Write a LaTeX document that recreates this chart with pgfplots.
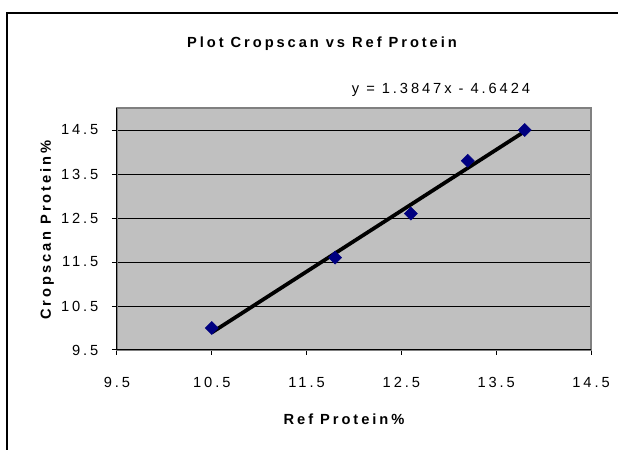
\documentclass[border=0pt]{standalone}
\usepackage{fontspec}
\setmainfont{Liberation Sans}[LetterSpace=20]
\usepackage{pgfplots}
\pgfplotsset{compat=1.18}
\definecolor{plotgrey}{HTML}{C0C0C0}
\definecolor{bordergrey}{HTML}{808080}
\definecolor{navymark}{HTML}{000080}
\begin{document}
\begin{tikzpicture}
\begin{axis}[
  at={(87.75pt,75pt)}, anchor=south west,
  scale only axis, width=355.5pt, height=181.5pt,
  xmin=9.5, xmax=14.5, ymin=9.5, ymax=15,
  xtick={9.5,10.5,11.5,12.5,13.5,14.5},
  ytick={9.5,10.5,11.5,12.5,13.5,14.5},
  xticklabels={9.5,10.5,11.5,12.5,13.5,14.5},
  yticklabels={9.5,10.5,11.5,12.5,13.5,14.5},
  tick align=outside, xtick pos=bottom, ytick pos=left,
  major tick length=3.75pt,
  tick style={black, line width=0.75pt},
  ymajorgrids, major grid style={black, line width=0.75pt},
  axis background/.style={fill=plotgrey},
  axis line style={draw=bordergrey, line width=1.5pt},
  ticklabel style={font=\fontsize{11}{13}\selectfont, inner sep=0pt},
  xticklabel style={anchor=base, yshift=-24pt},
  yticklabel style={anchor=east, xshift=-10pt},
  clip=false,
]
\addplot[only marks, mark=square*, mark size=3.45pt,
  mark options={rotate=45, fill=navymark, draw=navymark}]
  coordinates {(10.5,10.0) (11.8,11.6) (12.6,12.6) (13.2,13.8) (13.8,14.5)};
\addplot[black, line width=2.8pt, no marks]
  coordinates {(10.5,9.897) (13.8,14.467)};
\draw[black, line width=0.75pt] (rel axis cs:0,0) -- (rel axis cs:0,1);
\draw[black, line width=0.75pt] (rel axis cs:0,0) -- (rel axis cs:1,0);
\end{axis}
\draw[black, line width=0.9pt] (5.25pt,-5pt) -- (5.25pt,327.75pt) -- (470pt,327.75pt);
\node[anchor=base, inner sep=0pt, font=\fontsize{11}{13}\selectfont\bfseries] at (241.5pt,301.7pt) {Plot Cropscan vs Ref Protein};
\node[anchor=base, inner sep=0pt, font=\fontsize{11}{13}\selectfont] at (330.75pt,267pt) {y = 1.3847x - 4.6424};
\node[anchor=base, inner sep=0pt, font=\fontsize{11}{13}\selectfont\bfseries] at (258pt,18.75pt) {Ref Protein\%};
\node[anchor=base, inner sep=0pt, rotate=90, font=\fontsize{11}{13}\selectfont\bfseries] at (38.25pt,165pt) {Cropscan Protein\%};
\pgfresetboundingbox
\path[use as bounding box] (0,0) rectangle (463.5pt,337.5pt);
\end{tikzpicture}
\end{document}
